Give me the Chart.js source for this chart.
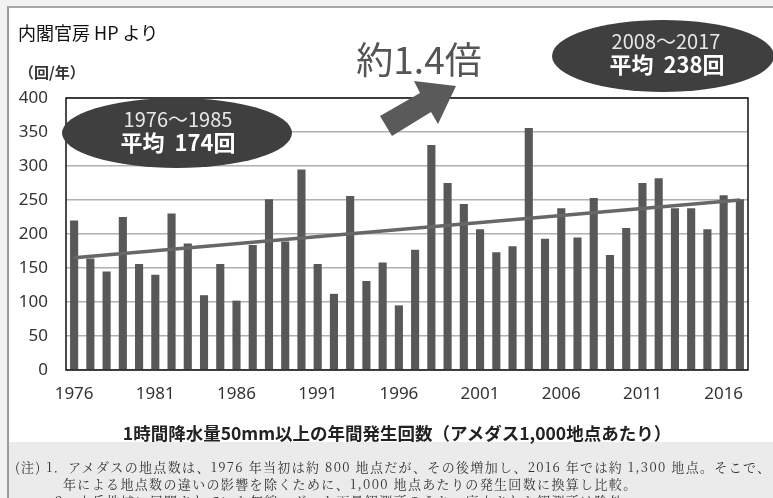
<!DOCTYPE html>
<html lang="ja">
<head>
<meta charset="utf-8">
<script src="https://cdn.jsdelivr.net/npm/chart.js@4.4.1/dist/chart.umd.min.js"></script>
<style>
  html, body { margin: 0; padding: 0; }
  body { width: 773px; height: 498px; background: #f2f2f2; position: relative; overflow: hidden;
         font-family: 'Noto Sans CJK JP', 'Noto Sans', sans-serif; }
  #frame { position: absolute; left: 7px; top: 6px; width: 766px; height: 492px; background: #fff;
           border-top: 2px solid #a8a8a8; border-left: 2px solid #9a9a9a; }
  #notes { position: absolute; left: 9px; top: 442px; width: 764px; height: 56px; background: #ebebeb; }
  #wrap { position: absolute; left: 0; top: 0; width: 773px; height: 420px; }
  svg { position: absolute; left: 0; top: 0; }
  .t { position: absolute; white-space: nowrap; }
  .c { transform: translate(-50%, -50%); }
  .note { font-family: 'Noto Serif CJK JP', 'Noto Sans CJK JP', serif; font-size: 13px; color: #333;
          letter-spacing: 1.35px; }
</style>
</head>
<body>
<div id="frame"></div>
<div id="notes"></div>
<div id="wrap"><canvas id="myChart" width="773" height="420"></canvas></div>

<svg width="773" height="498">
  <ellipse cx="177" cy="133" rx="115" ry="35" fill="#3f3f3f"/>
  <ellipse cx="663" cy="56" rx="111" ry="36" fill="#3f3f3f"/>
  <polygon points="380,116 420,93 414,81 456,86 438,124 431,112 392,136" fill="#5a5a5a"/>
</svg>

<div class="t" style="left:18px; top:19px; font-size:18px; color:#111;">内閣官房 HP より</div>
<div class="t" style="left:19px; top:61px; font-size:15px; color:#333; font-weight:bold;">（回/年）</div>
<div class="t c" style="left:419px; top:58px; font-size:37px; color:#555;">約1.4倍</div>

<div class="t c" style="left:178px; top:118px; font-size:20px; color:#e8e8e8;">1976〜1985</div>
<div class="t c" style="left:178px; top:141px; font-size:22px; color:#fff; font-weight:bold;">平均&nbsp;&nbsp;174回</div>
<div class="t c" style="left:666px; top:40px; font-size:20px; color:#e8e8e8;">2008〜2017</div>
<div class="t c" style="left:667px; top:63px; font-size:22px; color:#fff; font-weight:bold;">平均&nbsp;&nbsp;238回</div>

<div class="t c" style="left:397px; top:432px; font-size:17.5px; color:#222; font-weight:bold;">1時間降水量50mm以上の年間発生回数（アメダス1,000地点あたり）</div>

<div class="t note" style="left:15px; top:457px;">(注) 1．アメダスの地点数は、1976 年当初は約 800 地点だが、その後増加し、2016 年では約 1,300 地点。そこで、</div>
<div class="t note" style="left:63px; top:474px;">年による地点数の違いの影響を除くために、1,000 地点あたりの発生回数に換算し比較。</div>
<div class="t note" style="left:55px; top:491px;">2．山岳地域に展開されていた無線ロボット雨量観測所のうち、廃止された観測所は除外。</div>

<script>
// 年（カテゴリ）
const years = ['1976','1977','1978','1979','1980','1981','1982','1983','1984','1985',
               '1986','1987','1988','1989','1990','1991','1992','1993','1994','1995',
               '1996','1997','1998','1999','2000','2001','2002','2003','2004','2005',
               '2006','2007','2008','2009','2010','2011','2012','2013','2014','2015',
               '2016','2017'];
// 年間発生回数（回/年）
const counts = [220, 164, 145, 225, 156, 140, 230, 186, 110, 156,
                102, 184, 251, 189, 295, 156, 112, 256, 131, 158,
                95, 177, 331, 275, 244, 207, 173, 182, 356, 193,
                238, 195, 253, 169, 209, 275, 282, 238, 238, 207,
                257, 251];
// 傾向線（両端）
const trendYears = ['1976', '2017'];
const trendValues = [165, 250];
// 目盛り
const yTicks = [0, 50, 100, 150, 200, 250, 300, 350, 400];
const xTickYears = ['1976','1981','1986','1991','1996','2001','2006','2011','2016'];

Chart.defaults.font.family = "'Noto Sans', 'Noto Sans CJK JP', sans-serif";

const plotBox = {
  id: 'plotBox',
  afterDraw(chart) {
    const a = chart.chartArea;
    const ctx = chart.ctx;
    ctx.save();
    ctx.strokeStyle = '#111';
    ctx.lineWidth = 1.5;
    ctx.strokeRect(a.left, a.top, a.right - a.left, a.bottom - a.top);
    ctx.restore();
  }
};

const ctx = document.getElementById('myChart');
new Chart(ctx, {
  type: 'bar',
  data: {
    labels: years,
    datasets: [
      {
        type: 'line',
        data: trendYears.map((y, i) => ({ x: y, y: trendValues[i] })),
        borderColor: '#676767',
        borderWidth: 3.5,
        pointRadius: 0,
        fill: false,
        order: 0,
      },
      {
        data: counts,
        backgroundColor: '#585858',
        categoryPercentage: 1,
        barPercentage: 0.5,
        order: 1,
      },
    ],
  },
  options: {
    responsive: false,
    animation: false,
    layout: { padding: { top: 98, right: 25, left: 0, bottom: 0 } },
    scales: {
      x: {
        grid: { display: false, drawTicks: false },
        border: { display: false },
        afterFit: (s) => { s.height = 50; },
        ticks: {
          autoSkip: false,
          maxRotation: 0,
          padding: 14,
          color: '#333',
          font: { size: 17 },
          callback: function (v, i) {
            const y = years[i];
            return xTickYears.includes(y) ? y : '';
          },
        },
      },
      y: {
        min: 0,
        max: 400,
        afterFit: (s) => { s.width = 66; },
        afterBuildTicks: (s) => { s.ticks = yTicks.map(v => ({ value: v })); },
        grid: { color: '#b0b0b0', lineWidth: 1.5, drawTicks: false },
        border: { display: false },
        ticks: {
          padding: 18,
          color: '#333',
          font: { size: 17 },
        },
      },
    },
    plugins: {
      legend: { display: false },
      tooltip: { enabled: false },
    },
  },
  plugins: [plotBox],
});
</script>
</body>
</html>
